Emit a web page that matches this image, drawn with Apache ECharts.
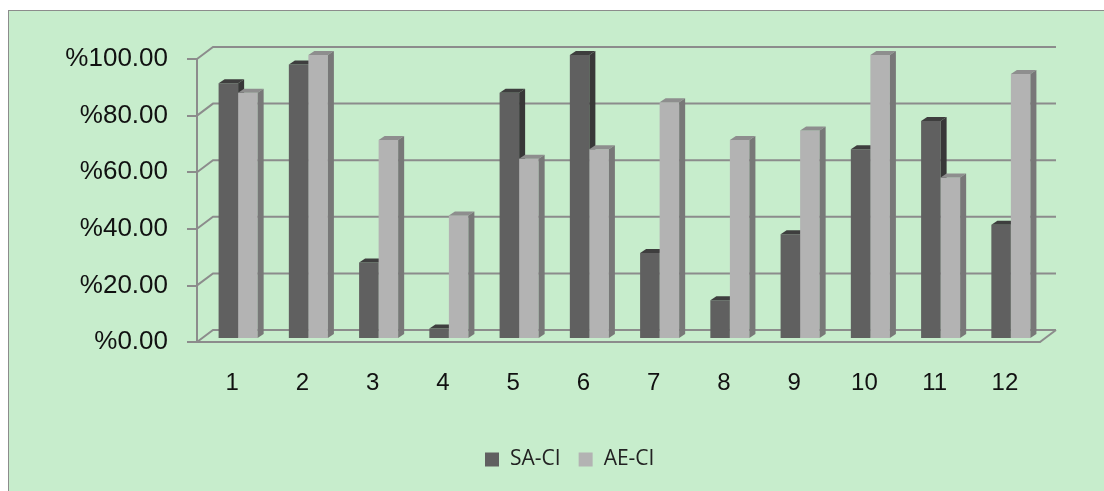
<!DOCTYPE html>
<html>
<head>
<meta charset="utf-8">
<script src="https://cdn.jsdelivr.net/npm/echarts@6/dist/echarts.min.js"></script>
<style>
html, body { margin: 0; padding: 0; background: #fff; overflow: hidden; }
#frame { position: absolute; left: 8px; top: 10px; width: 1110px; height: 500px; background: #c7edcc; border: 1px solid #8c8c8c; }
#main { position: absolute; left: 0; top: 0; width: 1104px; height: 491px; }
</style>
</head>
<body>
<div id="frame"></div>
<div id="main"></div>
<script>
"use strict"
const categories = ['1', '2', '3', '4', '5', '6', '7', '8', '9', '10', '11', '12'];
const saCi = [90, 96.67, 26.67, 3.33, 86.67, 100, 30, 13.33, 36.67, 66.67, 76.67, 40];
const aeCi = [86.67, 100, 70, 43.33, 63.33, 66.67, 83.33, 70, 73.33, 100, 56.67, 93.33];
const yTicks = [0, 20, 40, 60, 80, 100];

const LINE = '#8c8c8c';

// 3d box for one bar, side 0 = left bar of the pair, 1 = right bar
function barRenderer(side, frontCol, topCol, sideCol) {
    return function (params, api) {
        const i = api.value(0);
        const v = api.value(1);
        const base = api.coord([i, 0]);
        const peak = api.coord([i, v]);
        const bw = api.size([1, 0])[0] * 0.278;
        const x0 = base[0] + 6 + (side === 0 ? -bw : 0);
        const x1 = x0 + bw;
        const yb = base[1] - 4;
        const yt = peak[1] - 4;
        return {
            type: 'group',
            children: [
                { type: 'polygon', shape: { points: [[x0, yt], [x1, yt], [x1, yb], [x0, yb]] }, style: { fill: frontCol } },
                { type: 'polygon', shape: { points: [[x0, yt], [x0 + 6, yt - 4], [x1 + 6, yt - 4], [x1, yt]] }, style: { fill: topCol } },
                { type: 'polygon', shape: { points: [[x1, yt], [x1 + 6, yt - 4], [x1 + 6, yb - 4], [x1, yb]] }, style: { fill: sideCol } }
            ]
        };
    };
}

// back wall gridlines
function gridRenderer(params, api) {
    const v = api.value(1);
    const first = api.coord([0, v]);
    const last = api.coord([categories.length - 1, v]);
    const half = api.size([1, 0])[0] / 2;
    const xl = first[0] - half;
    const xr = last[0] + half;
    const y = first[1];
    const children = [{
        type: 'polyline',
        shape: { points: [[xl, y], [xl + 16, y - 12], [xr + 16, y - 12]] },
        style: { stroke: LINE, lineWidth: 2, fill: null }
    }];
    if (v === 0) {
        children.push({
            type: 'polyline',
            shape: { points: [[xr, y], [xr + 16, y - 12]] },
            style: { stroke: LINE, lineWidth: 2, fill: null }
        });
    }
    return { type: 'group', children: children };
}

const chart = echarts.init(document.getElementById('main'));
chart.setOption({
    backgroundColor: 'transparent',
    animation: false,
    grid: { left: 197, right: 64, top: 59, bottom: 149 },
    legend: {
        data: ['SA-CI', 'AE-CI'],
        left: 480,
        top: 444,
        icon: 'rect',
        itemWidth: 14,
        itemHeight: 14,
        itemGap: 18,
        textStyle: { fontFamily: 'Open Sans', fontSize: 21, color: '#222', padding: [0, 0, 0, 6] }
    },
    xAxis: {
        type: 'category',
        data: categories,
        axisLine: { lineStyle: { color: LINE, width: 2 } },
        axisTick: { length: 10, lineStyle: { color: LINE, width: 2 } },
        axisLabel: { fontFamily: 'Liberation Sans', fontSize: 24, color: '#111', margin: 29 },
        splitLine: { show: false }
    },
    yAxis: {
        type: 'value',
        min: 0,
        max: 100,
        interval: 20,
        axisLine: { show: true, lineStyle: { color: LINE, width: 2 } },
        axisTick: { show: true, length: 10, lineStyle: { color: LINE, width: 2 } },
        axisLabel: {
            fontFamily: 'Liberation Sans', fontSize: 26, color: '#111', margin: 29,
            formatter: function (v) { return '%' + v.toFixed(2); }
        },
        splitLine: { show: false }
    },
    series: [
        {
            name: 'grid',
            type: 'custom',
            renderItem: gridRenderer,
            data: yTicks.map(function (v) { return [0, v]; }),
            encode: { x: 0, y: 1 },
            silent: true,
            z: 1
        },
        {
            name: 'SA-CI',
            type: 'custom',
            renderItem: barRenderer(0, '#606060', '#3e3e3e', '#383838'),
            itemStyle: { color: '#606060' },
            data: saCi.map(function (v, i) { return [i, v]; }),
            encode: { x: 0, y: 1 },
            z: 2
        },
        {
            name: 'AE-CI',
            type: 'custom',
            renderItem: barRenderer(1, '#b3b3b3', '#8e8e8e', '#787878'),
            itemStyle: { color: '#b3b3b3' },
            data: aeCi.map(function (v, i) { return [i, v]; }),
            encode: { x: 0, y: 1 },
            z: 3
        }
    ]
});
</script>
</body>
</html>
